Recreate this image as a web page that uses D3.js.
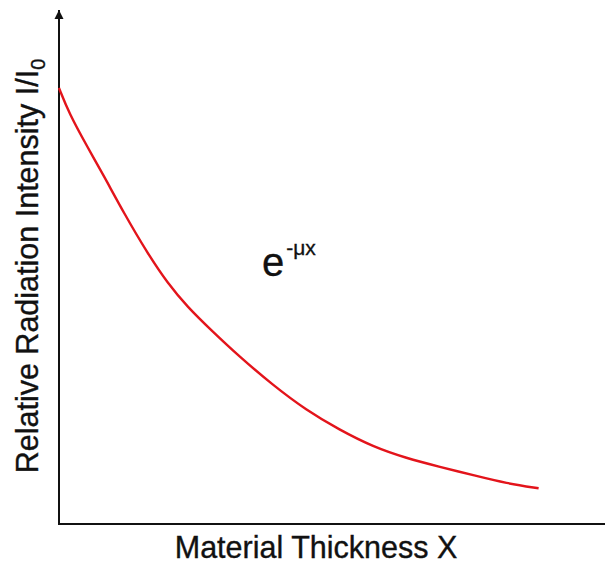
<!DOCTYPE html>
<html>
<head>
<meta charset="utf-8">
<script src="https://cdn.jsdelivr.net/npm/d3@7"></script>
<style>
  html, body { margin: 0; padding: 0; background: #fff; }
  svg { display: block; }
  text { font-family: "Liberation Sans", Arial, sans-serif; fill: #111; stroke: #111; stroke-width: 0.35; }
</style>
</head>
<body>
<svg id="chart" width="605" height="570"></svg>
<script>
// Material thickness (arbitrary units)
const thickness = [0, 0.21, 0.59, 0.94, 1.35, 1.84, 2.26, 2.67, 3.16, 3.75, 4.44, 5.14, 5.83, 6.53, 7.22, 7.92, 8.61, 9.31, 9.97];
// Relative radiation intensity I/I0
const intensity = [1.000, 0.942, 0.865, 0.797, 0.713, 0.621, 0.552, 0.498, 0.445, 0.384, 0.319, 0.261, 0.216, 0.177, 0.151, 0.131, 0.112, 0.093, 0.082];
// Axis extents (data units)
const xExtent = [0, 11.35];
const yExtent = [0, 1.179];

const svg = d3.select("#chart");
const origin = { x: 59, y: 524 };

const x = d3.scaleLinear().domain(xExtent).range([origin.x, 605]);
const y = d3.scaleLinear().domain(yExtent).range([origin.y, 10]);

// Arrowhead for the vertical axis
svg.append("defs").append("marker")
  .attr("id", "arrow")
  .attr("viewBox", "0 0 10 10")
  .attr("refX", 10).attr("refY", 5)
  .attr("markerWidth", 4.5).attr("markerHeight", 5)
  .attr("markerUnits", "strokeWidth")
  .attr("orient", "auto")
  .append("path").attr("d", "M0,0 L10,5 L0,10 Z").attr("fill", "#111");

// Axes (plain lines, no ticks)
svg.append("line")
  .attr("x1", x(0)).attr("y1", y(0))
  .attr("x2", x(0)).attr("y2", y(yExtent[1]))
  .attr("stroke", "#111").attr("stroke-width", 2)
  .attr("marker-end", "url(#arrow)");

svg.append("line")
  .attr("x1", x(0) - 1).attr("y1", y(0))
  .attr("x2", x(xExtent[1])).attr("y2", y(0))
  .attr("stroke", "#111").attr("stroke-width", 2.2);

// Attenuation curve (B-spline through the sampled readings)
const pts = thickness.map((t, i) => [t, intensity[i]]);
const line = d3.line()
  .x(d => x(d[0]))
  .y(d => y(d[1]))
  .curve(d3.curveBasis);

svg.append("path")
  .datum(pts)
  .attr("d", line)
  .attr("fill", "none")
  .attr("stroke", "#e3141b")
  .attr("stroke-width", 2.4);

// Formula label e^(-μx)
const formula = svg.append("text")
  .attr("x", 262).attr("y", 276)
  .attr("font-size", 40);
formula.append("tspan").text("e");
formula.append("tspan")
  .attr("dy", -21).attr("dx", 2)
  .attr("font-size", 21)
  .text("-μx");

// X axis title
svg.append("text")
  .attr("x", 316).attr("y", 558)
  .attr("text-anchor", "middle")
  .attr("font-size", 30.5)
  .text("Material Thickness X");

// Y axis title
const yt = svg.append("text")
  .attr("transform", "translate(38,266) rotate(-90)")
  .attr("text-anchor", "middle")
  .attr("font-size", 30.5);
yt.append("tspan").text("Relative Radiation Intensity I/I");
yt.append("tspan").attr("dy", 7).attr("font-size", 20).text("0");
</script>
</body>
</html>
